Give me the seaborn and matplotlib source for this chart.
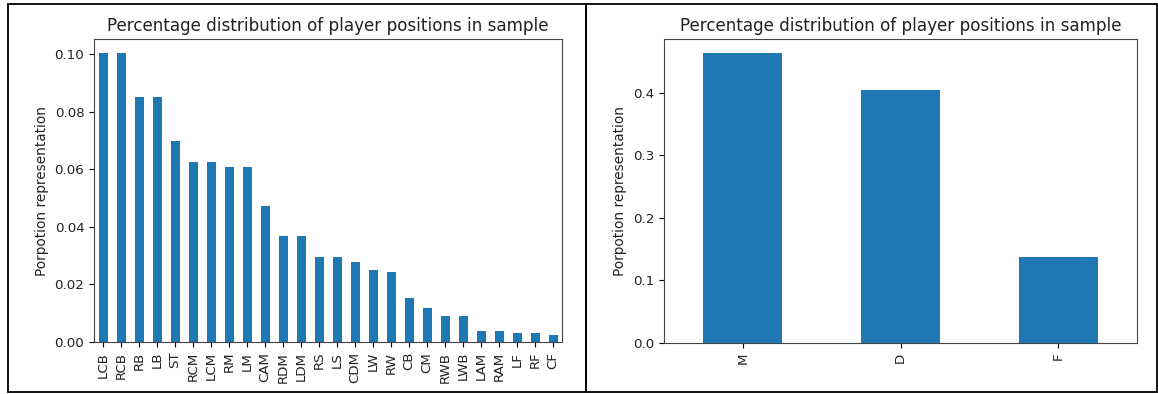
import pandas as pd
import matplotlib
matplotlib.use("Agg")
import matplotlib.pyplot as plt
from matplotlib.patches import Rectangle
import seaborn as sns

# detailed positions, sorted by share of sample
positions = ['LCB', 'RCB', 'RB', 'LB', 'ST', 'RCM', 'LCM', 'RM', 'LM', 'CAM',
             'RDM', 'LDM', 'RS', 'LS', 'CDM', 'LW', 'RW', 'CB', 'CM', 'RWB',
             'LWB', 'LAM', 'RAM', 'LF', 'RF', 'CF']
position_share = [0.1003, 0.1003, 0.0852, 0.0852, 0.0698, 0.0624, 0.0624, 0.0607,
                  0.0607, 0.0471, 0.0369, 0.0369, 0.0296, 0.0296, 0.0279, 0.0250,
                  0.0243, 0.0153, 0.0119, 0.0090, 0.0090, 0.0037, 0.0037, 0.0031,
                  0.0031, 0.0023]

# grouped positions
groups = ['M', 'D', 'F']
group_share = [0.463, 0.405, 0.137]

bar_color = '#1f77b4'
title = 'Percentage distribution of player positions in sample'
ylabel = 'Porpotion representation'

df_pos = pd.DataFrame({'position': positions, 'share': position_share})
df_grp = pd.DataFrame({'group': groups, 'share': group_share})

fig = plt.figure(figsize=(11.58, 3.94), dpi=100)
W, H = 1158, 394

# panel frames like the notebook screenshot
fig.patches.append(Rectangle((8 / W, 1 - 392 / H), (586 - 8) / W, (392 - 4) / H,
                             transform=fig.transFigure, fill=False,
                             edgecolor='black', linewidth=1.3))
fig.patches.append(Rectangle((586 / W, 1 - 392 / H), (1157 - 586) / W, (392 - 4) / H,
                             transform=fig.transFigure, fill=False,
                             edgecolor='black', linewidth=1.3))

ax1 = fig.add_axes([94 / W, 1 - 342 / H, (562 - 94) / W, (342 - 39) / H])
ax2 = fig.add_axes([664 / W, 1 - 343 / H, (1137 - 664) / W, (343 - 39) / H])

sns.barplot(data=df_pos, x='position', y='share', color=bar_color,
            saturation=1, width=0.5, ax=ax1)
sns.barplot(data=df_grp, x='group', y='share', color=bar_color,
            saturation=1, width=0.5, ax=ax2)

for ax, n in [(ax1, len(positions)), (ax2, len(groups))]:
    ax.set_title(title, fontsize=12.1, color='#222222')
    ax.set_xlabel('')
    ax.set_ylabel(ylabel, fontsize=9.8, color='#222222')
    ax.set_xlim(-0.5, n - 0.5)
    ax.tick_params(axis='x', labelrotation=90, labelsize=9.6, labelcolor='#222222')
    ax.tick_params(axis='y', labelsize=9.6, labelcolor='#222222')
    for s in ax.spines.values():
        s.set_edgecolor('#444444')

ax1.set_ylim(0, max(position_share) * 1.05)
ax2.set_ylim(0, max(group_share) * 1.05)
ax1.set_yticks([0.0, 0.02, 0.04, 0.06, 0.08, 0.10])
ax1.set_yticklabels(['0.00', '0.02', '0.04', '0.06', '0.08', '0.10'])
ax2.set_yticks([0.0, 0.1, 0.2, 0.3, 0.4])

fig.savefig('out.png', dpi=100)
